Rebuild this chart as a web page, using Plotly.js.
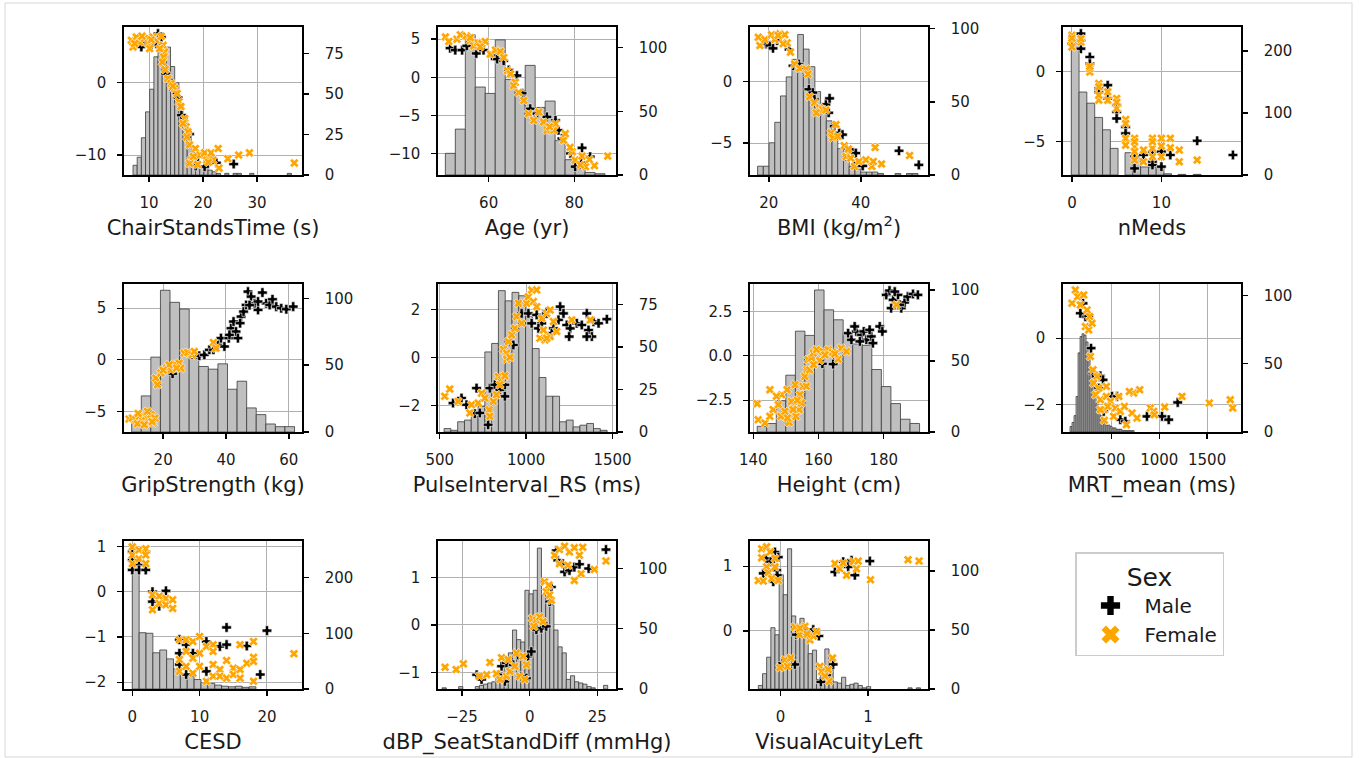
<!DOCTYPE html>
<html><head><meta charset="utf-8">
<script src="https://cdn.plot.ly/plotly-3.0.1.min.js"></script>
<style>html,body{margin:0;padding:0;background:#fff;}#chart{width:1359px;height:758px;}</style>
</head><body><div id="chart"></div>
<script>
// ---------- ChairStandsTime ----------
const chairHistX = [7.43,8.20,8.97,9.74,10.51,11.29,12.06,12.83,13.60,14.37,15.15,15.92,16.69,17.46,18.23,19.00,19.78,20.55,21.32,22.09,22.86,24.41,25.95,26.72,29.04,35.99];
const chairHistN = [6,11,23,39,53,73,87,76,79,67,57,43,36,27,14,9,5,4,3,2,1,1,1,1,1,1];
const chairMaleX = [11.67,12.28,8.89,10.43,8.58,13.1,13.7,15.37,16,17.5,19.07,18.64,20.9,21.36,22.47,25.68,20.3,11.36,9.6,14.6];
const chairMaleY = [6.74,6.28,5.28,5.14,4.91,1.24,0.32,-2.06,-4.5,-7.1,-10.2,-11.5,-11.2,-10.3,-11.06,-11.24,-11.6,5.37,5.6,-1.0];
const chairFemaleX = [6.73,7.04,7.65,8.27,9.2,9.81,10.74,11.36,12.28,12.6,12.9,11.98,7.35,10.12,12.7,12.47,13.5,14.1,14.75,15.2,15.55,16.6,16.9,16.3,17.2,17.5,18.6,17.8,17.5,19.4,20.3,20.7,21.5,21.85,22.96,22.8,24.6,26.6,28.6,36.9,8.7,10.4,13.0,14.4,15.9,17.0,18.2,19.0,21.0];
const chairFemaleY = [5.83,4.91,6.28,5.6,6.06,5.37,6.28,5.83,6.38,5.14,4.22,4.68,5.37,4.68,3.53,2.84,0.55,-0.14,-0.83,-1.5,-2.66,-4.95,-6.1,-5.64,-6.8,-8.6,-9.1,-10.7,-11.15,-10,-9.7,-10.7,-9.7,-10.7,-11.8,-9.1,-10.5,-10,-9.7,-11.1,6.4,5.9,1.8,-0.5,-3.3,-7.5,-10.2,-11.3,-11.0];

// ---------- Age ----------
const ageHistX = [51.05,53.38,55.71,58.04,60.37,62.70,65.03,67.36,69.69,72.02,74.35,76.68,79.01,81.34,83.67,86.00];
const ageHistN = [17,36,110,69,64,106,75,66,86,53,58,27,12,5,2,1];
const ageMaleX = [51,52.2,53.8,54.9,57.1,58.8,60.8,62,63.5,64.7,66.6,67.8,69.7,71.3,73.6,75.6,76.3,77.1,79.1,81.8,81.6,83.7,80.2];
const ageMaleY = [3.83,3.57,3.57,4.13,3.13,3.57,2.83,2.39,2.17,0.96,0.22,-2.09,-4.13,-4.78,-5.2,-5.65,-6.96,-8.04,-10,-9.26,-11.2,-10.43,-11.74];
const ageFemaleX = [49.9,50.7,52.6,53.4,54.8,55.7,56.5,57.4,58.4,59.2,60.4,61.6,62.7,64.4,65.1,66.2,65.8,68.2,69.3,70.5,71.7,72.8,73.6,75.2,75.6,77.5,77.9,79.5,80.2,81.8,82.6,81.4,84.7,87.8,55.7,58.0,63.5,67.0,74.2,79.0,83.5];
const ageFemaleY = [5.3,4.7,5.0,5.57,5.43,4.78,4.13,4.57,4.43,4.7,3.04,3.57,3.39,0.87,0.43,-0.65,-1.1,-3.04,-4.78,-5.65,-4.57,-5.87,-6.96,-6.96,-6.09,-8.26,-7.4,-9.78,-10.87,-10.35,-11.74,-11.5,-11.6,-10.35,5.2,4.0,2.6,-2.0,-6.5,-9.2,-10.8];

// ---------- BMI ----------
const bmiHistX = [18.17,19.42,20.66,21.91,23.15,24.40,25.64,26.89,28.13,29.38,30.62,31.87,33.11,34.36,35.60,36.85,38.09,39.34,40.58,41.83,43.07,44.32,48.06,50.55,51.80];
const bmiHistN = [6,6,22,36,54,67,79,96,86,74,57,46,37,28,18,10,6,4,2,2,2,1,1,1,1];
const bmiMaleX = [19.35,20.2,20.9,21.8,24.4,25.25,26.55,27.4,28.7,29.57,29.9,32.4,33.2,33,34.2,35.3,36,36.8,38.2,38.9,39.3,40.4,48.3,52.6];
const bmiMaleY = [3.06,2.92,2.7,3.33,2.6,1.28,1.42,1.01,-0.63,-0.9,-1.45,-1.86,-1.37,-2.54,-3.63,-4.18,-4.32,-5.41,-5.77,-5.82,-6.64,-6.86,-5.63,-6.78];
const bmiFemaleX = [17.7,18.06,19.14,20.6,21.3,22.4,23.45,23.96,23.1,24.7,25.6,26.7,28.1,28.5,28.85,29.9,31,31.7,30.3,32.4,33.5,34.6,33.9,34.96,36.4,37.3,36.8,37.8,38.6,39.6,41.08,42.4,42.7,43.1,44.5,50.6,22.0];
const bmiFemaleY = [3.6,2.92,3.42,3.8,3.42,3.88,3.8,3.14,3.06,2.38,1.42,1.07,1.01,0.6,-1.23,-1.72,-2.13,-2.27,-2.54,-2.32,-4.18,-3.5,-4.59,-4.45,-5.22,-5.49,-6.1,-6.23,-6.9,-6.5,-6.37,-6.9,-6.5,-5.36,-6.7,-6.01,3.74];

// ---------- nMeds ----------
const medsHistX = [0.36,1.23,2.11,2.99,3.86,4.72,6.37,7.24,8.12,9.00,9.85,10.70,12.30,14.00];
const medsHistN = [215,134,116,93,73,43,36,27,13,13,13,2,1,1];
const medsMaleX = [0,1,1,1,2,2,3,3,4,4,5,5,5,6,6,7,7,8,9,9,9,10,10,11,14,18];
const medsMaleY = [1.96,2.67,1.6,2.2,1.01,0.54,-1.23,-1.5,-0.99,-1.93,-2.4,-2.88,-3.35,-3.94,-4.41,-6.06,-6.89,-5.94,-5.7,-6.42,-6.65,-5.7,-6.77,-5.94,-4.93,-5.94];
const medsFemaleX = [0,0,0,0,1,1,2,2,2,3,3,3,3,4,4,5,5,5,6,6,6,6,7,7,7,7,7,8,8,9,9,9,9,10,10,10,11,11,12,12,14];
const medsFemaleY = [2.55,2.19,1.72,2.35,2.08,2.3,-0.05,0.19,0.35,-0.87,-2.05,-1.7,-1.1,-1.46,-2.05,-1.93,-2.64,-2.2,-3.42,-4.76,-5.24,-3.7,-4.76,-5.35,-5.7,-6.3,-5.0,-5.59,-6.42,-4.76,-5.47,-6.06,-5.0,-4.76,-6.06,-5.3,-4.76,-5.42,-5.59,-6.42,-6.3];

// ---------- GripStrength ----------
const gripHistX = [11.50,14.56,17.60,20.66,23.70,26.76,29.80,32.86,35.90,38.96,42.00,45.06,48.10,51.16,54.20,57.26,60.30];
const gripHistN = [8,27,56,106,97,92,55,49,47,51,32,38,18,13,6,4,4];
const gripMaleX = [23,31.5,33.1,34.7,36,37.4,38.4,39.5,40.9,41.6,42.4,43.2,43.8,44.8,45.6,46.4,47,48,49.1,50.2,51.6,52.8,53.9,54.8,56,57.6,59.2,61.4,50.2,47.5,44.5,41.1];
const gripMaleY = [-1.35,0.39,0.48,0.97,0.97,1.45,2.1,1.29,2.1,3.06,3.71,2.74,2.1,4.19,4.68,5.32,6.61,6.13,5.48,4.84,6.52,5.48,5.32,5.87,5.16,5.0,4.9,5.16,5.65,5.3,3.55,2.42];
const gripFemaleX = [9.13,10.2,11.26,12.5,13.4,14.5,15.3,16.06,16.8,17.4,11.8,15.0,17.65,18.2,19.25,21.1,22.45,23.8,25.1,25.65,26.7,27.8,29.2,29.9,21.9,24.26,36.0,36.8,12.0,14.0,16.5,20.0];
const gripFemaleY = [-5.74,-5.65,-5.8,-5.48,-5.97,-5.48,-5.74,-5.32,-6.13,-5.65,-6.2,-5.0,-1.77,-2.42,-1.29,-0.81,-0.97,-0.42,-0.32,-0.81,0.65,0.71,0.48,0.81,-0.48,-0.81,1.68,1.13,-5.2,-6.3,-6.0,-1.0];

// ---------- PulseInterval_RS ----------
const pulseHistX = [544.9,584.2,623.5,662.8,702.1,741.4,780.7,820.0,859.3,898.6,937.9,977.2,1016.5,1055.8,1095.1,1134.4,1173.7,1213.0,1252.3,1291.6,1330.9,1370.2,1409.5,1448.8];
const pulseHistN = [2,1,6,7,9,15,47,52,83,77,82,80,68,49,32,21,21,6,7,3,4,5,2,1];
const pulseMaleX = [577,626,655,703,713,732,780,790,819,848,877,877,926,974,1013,1032,1061,1090,1119,1158,1197,1216,1235,1255,1293,1322,1351,1361,1380,1351,1390,1419,1467,1249,1187,1148,1071,1100];
const pulseMaleY = [-1.89,-1.68,-1.96,-2.33,-1.27,-2.3,-2.79,-1.27,-1.13,-1.34,-1.61,-1.13,0.52,1.83,1.83,1.42,1.77,1.42,1.9,1.21,2.11,1.83,1.35,1.21,1.42,1.35,1.83,1.14,0.87,0.87,1.49,1.42,1.59,0.87,1.56,1.01,1.21,1.7];
const pulseFemaleX = [529,558,606,674,684,723,742,761,786,790,810,829,839,858,877,848,868,887,897,916,935,955,945,974,1003,1013,1032,1061,1042,1061,1090,1119,1139,1158,1080,1110,1139,1177,1264,1371,1100,1119,887,906];
const pulseFemaleY = [-1.61,-1.31,-1.82,-2.3,-1.96,-1.89,-1.48,-1.68,-2.17,-2.44,-1.82,-1.54,-0.79,-0.92,-0.76,-1.13,0.34,0.18,0.66,0.94,1.21,2.25,1.7,1.42,2.25,2.52,2.8,2.8,2.32,2.11,1.63,1.83,1.97,1.49,0.8,0.73,0.87,1.08,1.56,1.56,1.14,0.8,-0.07,0.01];

// ---------- Height ----------
const heightHistX = [142.67,145.60,148.53,151.46,154.39,157.32,160.25,163.18,166.11,169.04,171.97,174.90,177.83,180.76,183.69,186.62,189.55];
const heightHistN = [4,6,22,40,71,68,100,86,79,70,62,61,44,32,20,9,6];
const heightMaleX = [161.2,164.5,169.1,170.1,171.6,173.2,173.9,174.7,176.2,176.7,178.8,179.6,171.1,172.7,175.7,180.8,181.8,182.9,184.4,185.4,186.4,187.4,189,190.5,183.4,184.9,182.3];
const heightMaleY = [-0.45,-0.47,1.27,0.9,1.37,1.18,1.37,0.9,1.09,0.71,1.65,1.37,1.65,0.81,1.46,3.43,3.67,3.15,3.43,2.68,3.0,3.33,3.48,3.43,3.61,2.87,2.68];
const heightFemaleX = [141.2,141.5,143.6,145.1,145.1,146.1,147.7,148.7,148.5,149.7,150.4,151,151.7,152.8,153.1,154.1,154.3,155.3,155.8,156.5,154.8,156.8,157.9,158.4,159.4,160.4,161.4,163,164.3,166,167,168.6,157.3,156.3,183.9,147.1,152.2,150.5,153.5,158.5,162,165];
const heightFemaleY = [-2.7,-3.6,-3.78,-1.91,-3.41,-3.03,-2.75,-2.19,-3.41,-3.13,-1.91,-3.75,-2.57,-1.63,-3.41,-3.03,-2.19,-1.72,-1.16,-0.79,-2.66,-0.22,-0.13,0.15,0.34,-0.26,0.24,0.34,0.19,-0.19,0.43,0.24,-0.79,-1.72,2.87,-2.28,-3.03,-3.5,-2.5,-0.5,0.05,0.1];

// ---------- MRT_mean ----------
const mrtHistX = [79,100,121,142,163,184,204,225,246,267,288,309,330,351,372,393,413,434,455,476,497,518,539,560,581,601,622,643,664,685,706,727];
const mrtHistN = [4,7,12,26,58,70,72,71,66,58,46,38,29,21,16,12,9,7,5,5,4,3,3,2,2,2,1,1,1,1,1,1];
const mrtMaleX = [204,229,263,176,288,308,385,413,368,507,559,594,646,872,1029,1099,1193,420];
const mrtMaleY = [1.05,0.65,0.67,0.75,-0.3,-1.05,-1.13,-1.25,-1.5,-1.75,-1.75,-2.45,-2.5,-2.35,-2.35,-2.45,-1.93,-2.2];
const mrtFemaleX = [124,89,148,176,211,246,274,229,263,298,281,308,350,315,368,336,385,448,448,490,420,462,427,542,524,594,636,657,716,733,796,768,907,942,949,1057,1238,1523,1742,1767,688,577,385];
const mrtFemaleY = [1.45,1.05,1.25,1.0,1.3,0.85,0.65,0.35,0.25,0.45,-0.55,-0.95,-1.15,-1.35,-1.5,-1.7,-1.85,-1.45,-1.75,-1.9,-2.15,-2.05,-2.47,-2.1,-2.35,-2.2,-2.05,-2.6,-2.25,-1.65,-1.55,-2.4,-2.1,-2.2,-2.3,-2.07,-1.75,-1.95,-1.85,-2.1,-1.6,-1.75,-2.15];

// ---------- CESD ----------
const cesdHistX = [0.51,1.53,2.55,3.57,4.59,5.61,6.63,7.65,8.67,9.69,10.71,11.73,12.75,13.77,14.79,15.81,16.83,17.85];
const cesdHistN = [231,101,100,65,70,54,36,27,23,17,11,10,7,5,4,5,3,4];
const cesdMaleX = [0,0,0,1,1,2,2,3,3,4,5,7,7,7,8,8,9,11,11,13,14,14,17,19,20];
const cesdMaleY = [0.88,0.70,0.48,0.59,0.48,0.88,0.48,-0.22,0,-0.32,0.02,-1.06,-1.36,-1.61,-1.17,-1.83,-1.36,-1.1,-1.76,-1.21,-0.79,-1.17,-1.2,-1.83,-0.86];
const cesdFemaleX = [0,0,0,1,1,2,2,2,3,3,4,4,5,5,6,6,7,7,7,8,8,8,9,9,9,10,10,10,11,11,12,12,12,12,13,13,14,14,15,15,16,16,16,17,18,18,18,18,24];
const cesdFemaleY = [0.99,0.81,0.62,0.92,0.73,0.95,0.81,0.62,-0.07,-0.4,-0.1,-0.26,-0.15,-0.29,-0.18,-0.37,-1.06,-1.5,-1.76,-1.06,-1.32,-1.65,-1.1,-1.47,-1.8,-0.99,-1.36,-1.65,-1.21,-1.98,-1.17,-1.32,-1.61,-1.87,-1.72,-1.87,-1.52,-1.91,-1.69,-1.83,-1.17,-1.72,-1.91,-1.58,-1.1,-1.45,-1.54,-1.98,-1.37];

// ---------- dBP_SeatStandDiff ----------
const dbpHistX = [-31.60,-25.49,-19.37,-17.84,-16.31,-14.78,-13.25,-11.72,-10.19,-8.66,-7.13,-5.60,-4.07,-2.54,-1.01,0.53,2.06,3.59,5.12,6.65,8.18,9.71,11.24,12.77,14.30,15.83,17.36,18.89,20.42,21.95,23.48,28.07];
const dbpHistN = [1,2,2,3,4,5,6,9,14,21,30,49,41,39,82,79,82,117,78,80,70,49,35,30,8,11,6,5,4,2,1,3];
const dbpMaleX = [-19.6,-17.8,-11.6,-10.4,-9.2,-8.6,-6.1,-4.3,-3.06,-1.23,-0.6,0.6,2.45,4.3,6.1,8,7.35,9.8,10.4,12.25,12.9,14.7,16.5,18.4,21.8,28.2];
const dbpMaleY = [-1.05,-1.15,-1.05,-0.87,-1.19,-0.8,-0.84,-0.63,-1.08,-1.12,-0.66,-0.56,-0.1,-0.07,-0.03,0.8,0.49,1.57,1.36,1.29,1.12,1.15,1.22,1.28,1.19,1.59];
const dbpFemaleX = [-31.3,-27.2,-24.5,-18.6,-15.9,-14.7,-12.3,-11,-10.4,-8.6,-7.35,-5.5,-3.7,-4.9,-1.84,-1.23,-2.45,-8,1,2.45,3.7,4.9,1.5,5.5,7.1,6.1,8,7.35,9.2,11,12.9,14.7,16.5,18.4,19.6,11,14.1,16.5,19,23.9,28.2];
const dbpFemaleY = [-0.89,-0.94,-0.82,-1.08,-1.05,-0.79,-1.03,-1.15,-0.69,-1.08,-0.98,-0.87,-1.08,-0.59,-1.15,-0.84,-0.66,-0.73,0.14,0.1,0.17,0.07,-0.03,0.91,0.84,0.7,0.52,0.63,1.47,1.59,1.66,1.54,1.63,1.47,1.64,1.29,1.26,0.94,1.08,1.17,1.35];

// ---------- VisualAcuityLeft ----------
const visHistX = [-0.231,-0.183,-0.136,-0.088,-0.041,0.007,0.054,0.102,0.149,0.197,0.244,0.292,0.339,0.387,0.434,0.482,0.529,0.577,0.625,0.672,0.720,0.767,0.815,0.862,0.910,0.957,1.005,1.479,1.574];
const visHistN = [3,13,27,52,46,97,80,119,62,44,60,45,30,33,8,12,34,20,6,5,10,3,4,5,3,1,2,1,1];
const visMaleX = [-0.167,-0.114,-0.065,-0.046,-0.198,-0.084,-0.027,-0.038,0.18,0.373,0.437,0.26,0.316,0.023,0.163,0.6,0.46,0.525,0.62,0.715,0.81,0.848,1.019,0.772];
const visMaleY = [1.12,1.07,1.22,0.94,0.89,0.76,1.14,0.86,-0.06,0.02,-0.08,0.02,-0.06,-0.5,-0.52,-0.52,-0.79,-0.68,0.91,1.07,1.09,0.86,1.08,0.99];
const visFemaleX = [-0.217,-0.16,-0.217,-0.12,-0.065,-0.16,-0.14,-0.255,-0.198,-0.103,-0.027,-0.065,0.163,0.22,0.278,0.335,0.373,0.22,0.304,0.41,0.05,0.114,0.076,-0.008,0.45,0.468,0.544,0.593,0.555,0.506,0.62,0.677,0.753,0.829,0.886,0.867,0.715,1.027,1.456,1.582];
const visFemaleY = [1.27,1.3,1.13,1.22,1.12,0.99,0.9,0.78,0.77,0.81,0.78,0.99,0.06,-0.06,0.07,-0.14,-0.08,0.04,-0.05,-0.01,-0.45,-0.42,-0.55,-0.57,-0.55,-0.63,-0.6,-0.42,-0.78,-0.7,1.04,0.96,0.86,1.07,1.08,0.96,1.05,0.79,1.1,1.08];

const legendLabels = ['Male','Female'];
const legendTitle = 'Sex';

// ---------- layout config ----------
const panels = [
 {t:'ChairStandsTime (s)', hx:chairHistX, hn:chairHistN, mx:chairMaleX, my:chairMaleY, fx:chairFemaleX, fy:chairFemaleY, xr:[5.37,38.33], yl:[-12.75,7.66], yr:[0,91.4], xt:[10,20,30], ylt:[-10,0], yrt:[0,25,50,75], bw:0.772, c:0, r:0},
 {t:'Age (yr)', hx:ageHistX, hn:ageHistN, mx:ageMaleX, my:ageMaleY, fx:ageFemaleX, fy:ageFemaleY, xr:[48.17,89.73], yl:[-12.83,6.6], yr:[0,116.1], xt:[60,80], ylt:[-10,-5,0,5], yrt:[0,50,100], bw:2.33, c:1, r:0},
 {t:'BMI (kg/m<sup>2</sup>)', hx:bmiHistX, hn:bmiHistN, mx:bmiMaleX, my:bmiMaleY, fx:bmiFemaleX, fy:bmiFemaleY, xr:[15.9,54.6], yl:[-7.6,4.43], yr:[0,101.1], xt:[20,40], ylt:[-5,0], yrt:[0,50,100], bw:1.245, c:2, r:0},
 {t:'nMeds', hx:medsHistX, hn:medsHistN, mx:medsMaleX, my:medsMaleY, fx:medsFemaleX, fy:medsFemaleY, xr:[-1.0,18.9], yl:[-7.36,3.14], yr:[0,239], xt:[0,10], ylt:[-5,0], yrt:[0,100,200], bw:0.87, c:3, r:0},
 {t:'GripStrength (kg)', hx:gripHistX, hn:gripHistN, mx:gripMaleX, my:gripMaleY, fx:gripFemaleX, fy:gripFemaleY, xr:[7.53,64.2], yl:[-7.0,7.35], yr:[0,110.7], xt:[20,40,60], ylt:[-5,0,5], yrt:[0,50,100], bw:3.05, c:0, r:1},
 {t:'PulseInterval_RS (ms)', hx:pulseHistX, hn:pulseHistN, mx:pulseMaleX, my:pulseMaleY, fx:pulseFemaleX, fy:pulseFemaleY, xr:[490,1520], yl:[-3.09,3.05], yr:[0,86.9], xt:[500,1000,1500], ylt:[-2,0,2], yrt:[0,25,50,75], bw:39.3, c:1, r:1},
 {t:'Height (cm)', hx:heightHistX, hn:heightHistN, mx:heightMaleX, my:heightMaleY, fx:heightFemaleX, fy:heightFemaleY, xr:[139,193.6], yl:[-4.29,4.04], yr:[0,104.2], xt:[140,160,180], ylt:[-2.5,0,2.5], yltext:['\u22122.5','0.0','2.5'], yrt:[0,50,100], bw:2.93, c:2, r:1},
 {t:'MRT_mean (ms)', hx:mrtHistX, hn:mrtHistN, mx:mrtMaleX, my:mrtMaleY, fx:mrtFemaleX, fy:mrtFemaleY, xr:[-5,1854], yl:[-2.82,1.63], yr:[0,108.5], xt:[500,1000,1500], ylt:[-2,0], yrt:[0,50,100], bw:20.9, c:3, r:1},
 {t:'CESD', hx:cesdHistX, hn:cesdHistN, mx:cesdMaleX, my:cesdMaleY, fx:cesdFemaleX, fy:cesdFemaleY, xr:[-1.23,25.2], yl:[-2.15,1.12], yr:[0,265.5], xt:[0,10,20], ylt:[-2,-1,0,1], yrt:[0,100,200], bw:1.02, c:0, r:2},
 {t:'dBP_SeatStandDiff (mmHg)', hx:dbpHistX, hn:dbpHistN, mx:dbpMaleX, my:dbpMaleY, fx:dbpFemaleX, fy:dbpFemaleY, xr:[-33.9,31.9], yl:[-1.35,1.77], yr:[0,122.9], xt:[-25,0,25], ylt:[-1,0,1], yrt:[0,50,100], bw:1.53, c:1, r:2},
 {t:'VisualAcuityLeft', hx:visHistX, hn:visHistN, mx:visMaleX, my:visMaleY, fx:visFemaleX, fy:visFemaleY, xr:[-0.35,1.684], yl:[-0.9,1.39], yr:[0,125.6], xt:[0,1], ylt:[0,1], yrt:[0,50,100], bw:0.0475, c:2, r:2}
];

const W = 1359, H = 758;
const colX = [124, 438, 750, 1063], rowY = [27, 284, 541], PW = 178, PH = 148;
const MALE = '#000000', FEMALE = '#FFA500';
const FONT = 'DejaVu Sans, Liberation Sans, sans-serif';
const TXT = '#1a1a1a';

const traces = [];
const layout = {
  width: W, height: H, margin: {l:0, r:0, t:0, b:0},
  paper_bgcolor: '#ffffff', plot_bgcolor: '#ffffff',
  font: {family: FONT, size: 15, color: TXT},
  showlegend: true,
  legend: {
    x: 1075/W, y: 1 - 552/H, xanchor: 'left', yanchor: 'top',
    bgcolor: '#ffffff', bordercolor: '#cccccc', borderwidth: 1.5,
    font: {size: 20, color: TXT, family: FONT},
    title: {text: legendTitle, side: 'top center', font: {size: 25, color: TXT, family: FONT}},
    itemwidth: 58
  },
  shapes: [{type:'rect', xref:'paper', yref:'paper', x0:5/W, x1:1352/W, y0:1-757/H, y1:1-3/H, line:{color:'#d6d6d6', width:1}}]
};

const axisCommon = {
  ticks: 'outside', ticklen: 5, tickwidth: 1.4, tickcolor: '#000',
  showline: true, linecolor: '#000', linewidth: 1.7,
  zeroline: false, tickfont: {size: 15, color: TXT, family: FONT},
  automargin: false, fixedrange: true
};

panels.forEach((p, i) => {
  const xi = i + 1, yb = 2*i + 1, yo = 2*i + 2;
  const xname = 'x' + xi, ybname = 'y' + yb, yoname = 'y' + yo;
  const x0 = colX[p.c], y0 = rowY[p.r];
  const xd = [x0 / W, (x0 + PW) / W];
  const yd = [1 - (y0 + PH) / H, 1 - y0 / H];

  layout['xaxis' + xi] = Object.assign({}, axisCommon, {
    domain: xd, range: p.xr, anchor: ybname, tickvals: p.xt, mirror: true,
    showgrid: true, gridcolor: '#b0b0b0', gridwidth: 1, ticklabelstandoff: 8,
    title: {text: p.t, font: {size: 21, color: TXT, family: FONT}, standoff: 9}
  });
  layout['yaxis' + yb] = Object.assign({}, axisCommon, {
    domain: yd, range: p.yr, anchor: xname, side: 'right', tickvals: p.yrt, showgrid: false,
    ticklabelstandoff: 13
  });
  const yl = Object.assign({}, axisCommon, {
    range: p.yl, anchor: xname, overlaying: ybname, side: 'left', tickvals: p.ylt,
    showgrid: true, gridcolor: '#b0b0b0', gridwidth: 1, ticklabelstandoff: 8
  });
  if (p.yltext) yl.ticktext = p.yltext;
  layout['yaxis' + yo] = yl;

  traces.push({type: 'bar', x: p.hx, y: p.hn, width: p.bw, xaxis: xname, yaxis: ybname,
    marker: {color: '#bfbfbf', line: {color: '#3a3a3a', width: 0.8}}, showlegend: false, hoverinfo: 'skip'});
  traces.push({type: 'scatter', mode: 'markers', x: p.mx, y: p.my, xaxis: xname, yaxis: yoname,
    marker: {symbol: 'cross', size: 8, color: MALE, line: {color: '#ffffff', width: 0.6}}, showlegend: false, hoverinfo: 'skip'});
  traces.push({type: 'scatter', mode: 'markers', x: p.fx, y: p.fy, xaxis: xname, yaxis: yoname,
    marker: {symbol: 'x', size: 8, color: FEMALE, line: {color: '#ffffff', width: 0.6}}, showlegend: false, hoverinfo: 'skip'});
});

// legend-only entries
traces.push({type:'scatter', mode:'markers', x:[null], y:[null], xaxis:'x1', yaxis:'y2', name: legendLabels[0],
  marker:{symbol:'cross', size:16, color:MALE}, showlegend:true});
traces.push({type:'scatter', mode:'markers', x:[null], y:[null], xaxis:'x1', yaxis:'y2', name: legendLabels[1],
  marker:{symbol:'x', size:16, color:FEMALE}, showlegend:true});

Plotly.newPlot('chart', traces, layout, {staticPlot: true, displayModeBar: false});
</script></body></html>
